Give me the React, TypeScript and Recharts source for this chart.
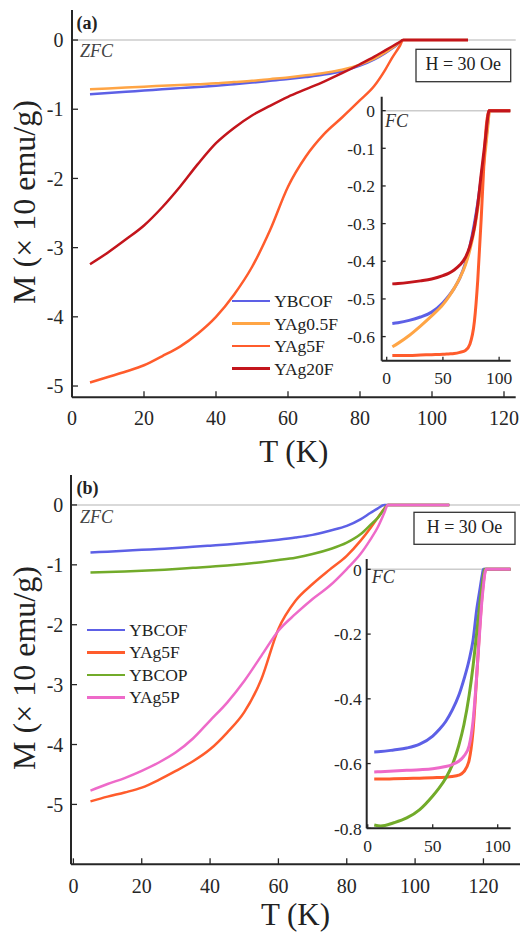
import React from "react";
import { LineChart, Line, XAxis, YAxis, ReferenceLine, Legend } from "recharts";

const FONT = "Liberation Serif, Times New Roman, Tinos, DejaVu Serif, serif";
const INK = "#262626";

// ---- panel (a), ZFC ----
const tZfc = [5, 10, 15, 20, 25, 30, 35, 40, 45, 50, 55, 60, 65, 70, 75, 80, 84, 87, 89, 91, 92, 95, 100, 110];
const ybcofZfcA = [-0.785, -0.765, -0.747, -0.73, -0.712, -0.695, -0.678, -0.66, -0.638, -0.615, -0.59, -0.565, -0.535, -0.5, -0.45, -0.37, -0.28, -0.19, -0.12, -0.04, 0, 0, 0, 0];
const yag05ZfcA = [-0.713, -0.7, -0.687, -0.674, -0.662, -0.65, -0.638, -0.626, -0.608, -0.59, -0.565, -0.54, -0.51, -0.475, -0.43, -0.355, -0.27, -0.18, -0.11, -0.035, 0, 0, 0, 0];
const yag5ZfcA = [-4.95, -4.87, -4.79, -4.7, -4.57, -4.43, -4.24, -4.0, -3.68, -3.28, -2.75, -2.12, -1.68, -1.36, -1.12, -0.87, -0.66, -0.43, -0.25, -0.09, 0, 0, 0, 0];
const yag20ZfcA = [-3.24, -3.07, -2.88, -2.68, -2.42, -2.12, -1.79, -1.49, -1.27, -1.09, -0.95, -0.82, -0.71, -0.6, -0.48, -0.35, -0.24, -0.15, -0.09, -0.03, 0, 0, 0, 0];

// ---- panel (a) inset, FC ----
const tFcA = [5, 10, 20, 30, 40, 50, 55, 60, 65, 70, 74, 78, 81, 84, 86, 88, 90, 91, 92, 95, 100, 110];
const ybcofFcA = [-0.565, -0.563, -0.557, -0.548, -0.535, -0.51, -0.493, -0.472, -0.445, -0.405, -0.36, -0.3, -0.245, -0.18, -0.135, -0.085, -0.03, 0, 0, 0, 0, 0];
const yag05FcA = [-0.627, -0.618, -0.597, -0.572, -0.545, -0.515, -0.495, -0.472, -0.445, -0.41, -0.37, -0.315, -0.26, -0.195, -0.15, -0.1, -0.04, -0.01, 0, 0, 0, 0];
const yag5FcA = [-0.65, -0.65, -0.65, -0.649, -0.648, -0.647, -0.646, -0.645, -0.642, -0.637, -0.62, -0.56, -0.45, -0.29, -0.17, -0.06, -0.01, 0, 0, 0, 0, 0];
const yag20FcA = [-0.46, -0.459, -0.456, -0.452, -0.447, -0.438, -0.432, -0.423, -0.41, -0.39, -0.36, -0.31, -0.25, -0.17, -0.12, -0.07, -0.015, 0, 0, 0, 0, 0];

// ---- panel (b), ZFC ----
const ybcofZfcB = [-0.795, -0.78, -0.765, -0.75, -0.735, -0.72, -0.7, -0.68, -0.66, -0.635, -0.61, -0.58, -0.545, -0.5, -0.43, -0.35, -0.24, -0.13, -0.06, 0, 0, 0, 0, 0];
const yag5ZfcB = [-4.95, -4.87, -4.8, -4.72, -4.59, -4.44, -4.28, -4.08, -3.8, -3.46, -2.91, -2.07, -1.6, -1.32, -1.08, -0.85, -0.6, -0.38, -0.22, -0.06, 0, 0, 0, 0];
const ybcopZfcB = [-1.13, -1.12, -1.11, -1.1, -1.085, -1.07, -1.05, -1.03, -1.01, -0.985, -0.955, -0.92, -0.88, -0.82, -0.74, -0.63, -0.49, -0.33, -0.22, -0.07, 0, 0, 0, 0];
const yag5pZfcB = [-4.77, -4.66, -4.56, -4.44, -4.3, -4.13, -3.9, -3.6, -3.3, -2.94, -2.52, -2.1, -1.82, -1.57, -1.35, -1.07, -0.82, -0.57, -0.38, -0.13, 0, 0, 0, 0];

// ---- panel (b) inset, FC ----
const tFcB = [5, 10, 20, 30, 40, 50, 55, 60, 65, 70, 74, 78, 81, 84, 86, 88, 89, 90, 91, 95, 100, 110];
const ybcofFcB = [-0.564, -0.563, -0.558, -0.552, -0.54, -0.515, -0.495, -0.47, -0.435, -0.39, -0.34, -0.28, -0.22, -0.12, -0.07, -0.02, 0, 0, 0, 0, 0, 0];
const yag5FcB = [-0.648, -0.648, -0.647, -0.646, -0.645, -0.644, -0.643, -0.642, -0.64, -0.636, -0.625, -0.59, -0.5, -0.32, -0.19, -0.08, -0.04, -0.01, 0, 0, 0, 0];
const ybcopFcB = [-0.79, -0.793, -0.783, -0.768, -0.742, -0.7, -0.675, -0.645, -0.605, -0.545, -0.48, -0.39, -0.3, -0.19, -0.115, -0.05, -0.02, 0, 0, 0, 0, 0];
const yag5pFcB = [-0.626, -0.625, -0.623, -0.621, -0.619, -0.616, -0.613, -0.609, -0.603, -0.593, -0.577, -0.545, -0.47, -0.32, -0.2, -0.09, -0.05, -0.015, 0, 0, 0, 0];

// ticks
const mainXTicks = [0, 20, 40, 60, 80, 100, 120];
const mainYTicks = [-5, -4, -3, -2, -1, 0];
const insetXTicks = [0, 50, 100];
const insetYTicksA = [-0.6, -0.5, -0.4, -0.3, -0.2, -0.1, 0];
const insetYTicksB = [-0.8, -0.6, -0.4, -0.2, 0];

const BLUE = "#5d60e6";
const LORANGE = "#ffa545";
const ORED = "#ff5c2c";
const DRED = "#c3151c";
const GREEN = "#72ab2a";
const PINK = "#ee6ac9";

const pts = (t: number[], m: number[]) => t.map((T, i) => ({ T, M: m[i] }));

const seriesA = [
  { name: "YBCOF", color: BLUE, zfc: ybcofZfcA, fc: ybcofFcA },
  { name: "YAg0.5F", color: LORANGE, zfc: yag05ZfcA, fc: yag05FcA },
  { name: "YAg5F", color: ORED, zfc: yag5ZfcA, fc: yag5FcA },
  { name: "YAg20F", color: DRED, zfc: yag20ZfcA, fc: yag20FcA },
];
const seriesB = [
  { name: "YBCOF", color: BLUE, zfc: ybcofZfcB, fc: ybcofFcB },
  { name: "YAg5F", color: ORED, zfc: yag5ZfcB, fc: yag5FcB },
  { name: "YBCOP", color: GREEN, zfc: ybcopZfcB, fc: ybcopFcB },
  { name: "YAg5P", color: PINK, zfc: yag5pZfcB, fc: yag5pFcB },
];

const fmtInset = (v: number) => (v === 0 ? "0" : v.toFixed(1));

function frame(o: {
  xDomain: number[]; yDomain: number[]; xTicks: number[]; yTicks: number[];
  xh: number; yw: number; ts: number; xm: number; ym: number; fs: number; yFmt?: (v: number) => string;
}) {
  const tickStyle = { fill: INK, fontSize: o.fs, fontFamily: FONT };
  const axisLine = { stroke: INK, strokeWidth: 2 };
  const tickLine = { stroke: INK, strokeWidth: 1.3 };
  return [
    <XAxis key="xb" xAxisId="b" type="number" dataKey="T" domain={o.xDomain} allowDataOverflow ticks={o.xTicks}
      interval={0} height={o.xh} tickSize={-o.ts} tickMargin={o.xm} tick={tickStyle} axisLine={axisLine} tickLine={tickLine} />,
    <XAxis key="xt" xAxisId="t" type="number" orientation="top" domain={o.xDomain} allowDataOverflow ticks={o.xTicks}
      interval={0} height={0} tickSize={-o.ts} tick={false} axisLine={axisLine} tickLine={tickLine} />,
    <YAxis key="yl" yAxisId="l" type="number" domain={o.yDomain} allowDataOverflow ticks={o.yTicks} interval={0}
      width={o.yw} tickSize={-o.ts} tickMargin={o.ym} tick={tickStyle} axisLine={axisLine} tickLine={tickLine}
      tickFormatter={o.yFmt} />,
    <YAxis key="yr" yAxisId="r" orientation="right" type="number" domain={o.yDomain} allowDataOverflow ticks={o.yTicks}
      interval={0} width={0} tickSize={-o.ts} tick={false} axisLine={axisLine} tickLine={tickLine} />,
  ];
}

const renderLegend = (props: any) => (
  <div style={{ fontFamily: FONT }}>
    {(props.payload || []).map((e: any) => (
      <div key={e.value} style={{ display: "flex", alignItems: "center", height: 22.5 }}>
        <span style={{ display: "inline-block", width: 38, height: 2.6, background: e.color, marginRight: 4.5 }} />
        <span style={{ fontSize: 17.5, color: "#222", lineHeight: "22px" }}>{e.value}</span>
      </div>
    ))}
  </div>
);

function lines(series: typeof seriesA, which: "zfc" | "fc", t: number[], w: number) {
  return series.map((s) => (
    <Line key={s.name + which} xAxisId="b" yAxisId="l" type="monotone" data={pts(t, s[which])} dataKey="M"
      name={s.name} stroke={s.color} strokeWidth={w} dot={false} activeDot={false} isAnimationActive={false}
      legendType="line" />
  ));
}

const orderA = seriesA.map((s) => s.name);
const orderB = seriesB.map((s) => s.name);

export default function App() {
  return (
    <div style={{ position: "absolute", left: 0, top: 0, width: 528, height: 934, background: "#fff", fontFamily: FONT, overflow: "hidden" }}>
      {/* panel (a) */}
      <div style={{ position: "absolute", left: 0, top: 0 }}>
        <LineChart width={528} height={470} margin={{ top: 10, right: 12.3, left: 0, bottom: 0 }}>
          {frame({ xDomain: [0, 123.25], yDomain: [-5.163, 0.434], xTicks: mainXTicks, yTicks: mainYTicks, xh: 72.7, yw: 72, ts: 6, xm: 19, ym: 14.5, fs: 20 })}
          <ReferenceLine xAxisId="b" yAxisId="l" y={0} stroke="#cccccc" strokeWidth={1.5} />
          {lines(seriesA, "zfc", tZfc, 2.5)}
          <Legend layout="vertical" align="center" verticalAlign="middle" content={renderLegend}
            itemSorter={(item: any) => orderA.indexOf(item.value)}
            wrapperStyle={{ left: 231.7, top: 289.8, width: "auto", height: "auto" }} />
        </LineChart>
      </div>
      <div style={{ position: "absolute", left: 381.7, top: 96.7, width: 129, height: 264, background: "#fff" }} />
      <div style={{ position: "absolute", left: 330, top: 90 }}>
        <LineChart width={190} height={310} margin={{ top: 6.7, right: 9.3, left: 0, bottom: 0 }}>
          {frame({ xDomain: [-4.45, 110.3], yDomain: [-0.664, 0.037], xTicks: insetXTicks, yTicks: insetYTicksA, xh: 39.3, yw: 51.7, ts: 4, xm: 15, ym: 10.7, fs: 17.5, yFmt: fmtInset })}
          <ReferenceLine xAxisId="b" yAxisId="l" y={0} stroke="#cccccc" strokeWidth={1.5} />
          {lines(seriesA, "fc", tFcA, 3)}
        </LineChart>
      </div>

      {/* panel (b) */}
      <div style={{ position: "absolute", left: 0, top: 467 }}>
        <LineChart width={528} height={467} margin={{ top: 8, right: 8, left: 0, bottom: 0 }}>
          {frame({ xDomain: [-0.7, 130.7], yDomain: [-6, 0.5], xTicks: mainXTicks, yTicks: mainYTicks, xh: 69.7, yw: 71, ts: 6, xm: 20, ym: 13.7, fs: 20 })}
          <ReferenceLine xAxisId="b" yAxisId="l" y={0} stroke="#cccccc" strokeWidth={1.5} />
          {lines(seriesB, "zfc", tZfc, 2.5)}
          <Legend layout="vertical" align="center" verticalAlign="middle" content={renderLegend}
            itemSorter={(item: any) => orderB.indexOf(item.value)}
            wrapperStyle={{ left: 86.7, top: 151.7, width: "auto", height: "auto" }} />
        </LineChart>
      </div>
      <div style={{ position: "absolute", left: 366.7, top: 559, width: 144, height: 269.3, background: "#fff" }} />
      <div style={{ position: "absolute", left: 320, top: 550 }}>
        <LineChart width={200} height={310} margin={{ top: 9, right: 9.3, left: 0, bottom: 0 }}>
          {frame({ xDomain: [-0.8, 110], yDomain: [-0.8, 0.032], xTicks: insetXTicks, yTicks: insetYTicksB, xh: 31.7, yw: 46.7, ts: 4, xm: 15.7, ym: 9, fs: 17.5, yFmt: fmtInset })}
          <ReferenceLine xAxisId="b" yAxisId="l" y={0} stroke="#cccccc" strokeWidth={1.5} />
          {lines(seriesB, "fc", tFcB, 3)}
        </LineChart>
      </div>

      {/* annotations */}
      <svg width={528} height={934} style={{ position: "absolute", left: 0, top: 0, pointerEvents: "none", fontFamily: FONT }}>
        <text x={76.5} y={29} fontSize={18} fontWeight="bold" fill="#222">(a)</text>
        <text x={80} y={56.7} fontSize={18} fontStyle="italic" fill="#444">ZFC</text>
        <rect x={416} y={49.3} width={94.7} height={32.4} fill="#fff" stroke="#333" strokeWidth={1.3} />
        <text x={463.3} y={70} fontSize={18} textAnchor="middle" fill="#222">H = 30 Oe</text>
        <text x={385} y={127.3} fontSize={18} fontStyle="italic" fill="#333">FC</text>
        <text x={293.8} y={461.7} fontSize={31} textAnchor="middle" fill="#222">T (K)</text>
        <text transform="translate(35,202) rotate(-90)" fontSize={32} textAnchor="middle" fill="#222">M (× 10 emu/g)</text>

        <text x={76.5} y={493.5} fontSize={18} fontWeight="bold" fill="#222">(b)</text>
        <text x={80} y={523} fontSize={18} fontStyle="italic" fill="#444">ZFC</text>
        <rect x={414} y={512.3} width={101} height={32} fill="#fff" stroke="#333" strokeWidth={1.3} />
        <text x={464.5} y={532.7} fontSize={18} textAnchor="middle" fill="#222">H = 30 Oe</text>
        <text x={371.7} y={583.3} fontSize={18} fontStyle="italic" fill="#333">FC</text>
        <text x={295.5} y={925} fontSize={31} textAnchor="middle" fill="#222">T (K)</text>
        <text transform="translate(35,668) rotate(-90)" fontSize={32} textAnchor="middle" fill="#222">M (× 10 emu/g)</text>
      </svg>
    </div>
  );
}
